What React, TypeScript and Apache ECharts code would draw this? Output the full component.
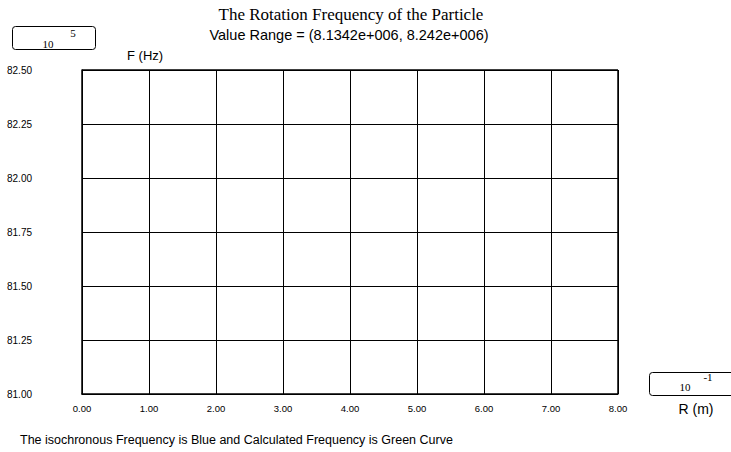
import React, { useEffect, useRef } from "react";
import * as echarts from "echarts";

const xTicks = [0, 1, 2, 3, 4, 5, 6, 7, 8];
const yTicks = [81.0, 81.25, 81.5, 81.75, 82.0, 82.25, 82.5];
const isochronousFreq: number[][] = [];
const calculatedFreq: number[][] = [];
const titleText = "The Rotation Frequency of the Particle";
const subText = "Value Range = (8.1342e+006, 8.242e+006)";
const yScaleExp = "5";
const xScaleExp = "-1";
const footer = "The isochronous Frequency is Blue and Calculated Frequency is Green Curve";

export default function App() {
  const ref = useRef<HTMLDivElement>(null);
  useEffect(() => {
    if (!ref.current) return;
    const chart = echarts.init(ref.current, null, { renderer: "svg" });
    const sans = "Liberation Sans";
    chart.setOption({
      animation: false,
      backgroundColor: "#ffffff",
      grid: { left: 82, top: 70, width: 536, height: 324, show: false },
      xAxis: {
        type: "value",
        min: xTicks[0],
        max: xTicks[xTicks.length - 1],
        interval: 1,
        axisLine: { show: true, lineStyle: { color: "#000", width: 1.5 } },
        axisTick: { show: false },
        splitLine: { show: true, lineStyle: { color: "#000", width: 1 } },
        axisLabel: {
          margin: 9,
          color: "#000",
          fontFamily: sans,
          fontSize: 9.5,
          formatter: (v: number) => v.toFixed(2),
        },
      },
      yAxis: {
        type: "value",
        min: yTicks[0],
        max: yTicks[yTicks.length - 1],
        interval: 0.25,
        axisLine: { show: true, lineStyle: { color: "#000", width: 1.5 } },
        axisTick: { show: false },
        splitLine: { show: true, lineStyle: { color: "#000", width: 1 } },
        axisLabel: {
          margin: 75,
          align: "left",
          color: "#000",
          fontFamily: sans,
          fontSize: 10,
          formatter: (v: number) => v.toFixed(2),
        },
      },
      series: [
        { type: "line", name: "Isochronous", data: isochronousFreq, showSymbol: false, lineStyle: { color: "blue" } },
        { type: "line", name: "Calculated", data: calculatedFreq, showSymbol: false, lineStyle: { color: "green" } },
      ],
      graphic: [
        { type: "line", shape: { x1: 82, y1: 70, x2: 618, y2: 70 }, style: { stroke: "#000", lineWidth: 1.5 } },
        { type: "line", shape: { x1: 618, y1: 70, x2: 618, y2: 394 }, style: { stroke: "#000", lineWidth: 1.5 } },
        {
          type: "text",
          x: 351,
          y: 14,
          style: { text: titleText, font: "17px 'Liberation Serif'", fill: "#000", textAlign: "center", textVerticalAlign: "middle" },
        },
        {
          type: "text",
          x: 349,
          y: 35,
          style: { text: subText, font: "14.5px 'Liberation Sans'", fill: "#000", textAlign: "center", textVerticalAlign: "middle" },
        },
        {
          type: "rect",
          shape: { x: 12.5, y: 26.5, width: 83, height: 23, r: 3 },
          style: { fill: "none", stroke: "#000", lineWidth: 1 },
        },
        { type: "text", x: 48, y: 44, style: { text: "10", font: "11px 'Liberation Serif'", fill: "#000", textAlign: "center", textVerticalAlign: "middle" } },
        { type: "text", x: 73, y: 33, style: { text: yScaleExp, font: "11px 'Liberation Serif'", fill: "#000", textAlign: "center", textVerticalAlign: "middle" } },
        {
          type: "text",
          x: 127,
          y: 55,
          style: { text: "F (Hz)", font: "13px 'Liberation Sans'", fill: "#000", textAlign: "left", textVerticalAlign: "middle" },
        },
        {
          type: "rect",
          shape: { x: 649.5, y: 372.5, width: 90, height: 23, r: 3 },
          style: { fill: "none", stroke: "#000", lineWidth: 1 },
        },
        { type: "text", x: 685, y: 387, style: { text: "10", font: "11px 'Liberation Serif'", fill: "#000", textAlign: "center", textVerticalAlign: "middle" } },
        { type: "text", x: 708, y: 377, style: { text: xScaleExp, font: "11px 'Liberation Serif'", fill: "#000", textAlign: "center", textVerticalAlign: "middle" } },
        {
          type: "text",
          x: 696,
          y: 409,
          style: { text: "R (m)", font: "14px 'Liberation Sans'", fill: "#000", textAlign: "center", textVerticalAlign: "middle" },
        },
        {
          type: "text",
          x: 20,
          y: 440,
          style: { text: footer, font: "12.5px 'Liberation Sans'", fill: "#000", textAlign: "left", textVerticalAlign: "middle" },
        },
      ],
    });
    return () => chart.dispose();
  }, []);
  return <div ref={ref} style={{ width: 731, height: 452, position: "absolute", left: 0, top: 0 }} />;
}
